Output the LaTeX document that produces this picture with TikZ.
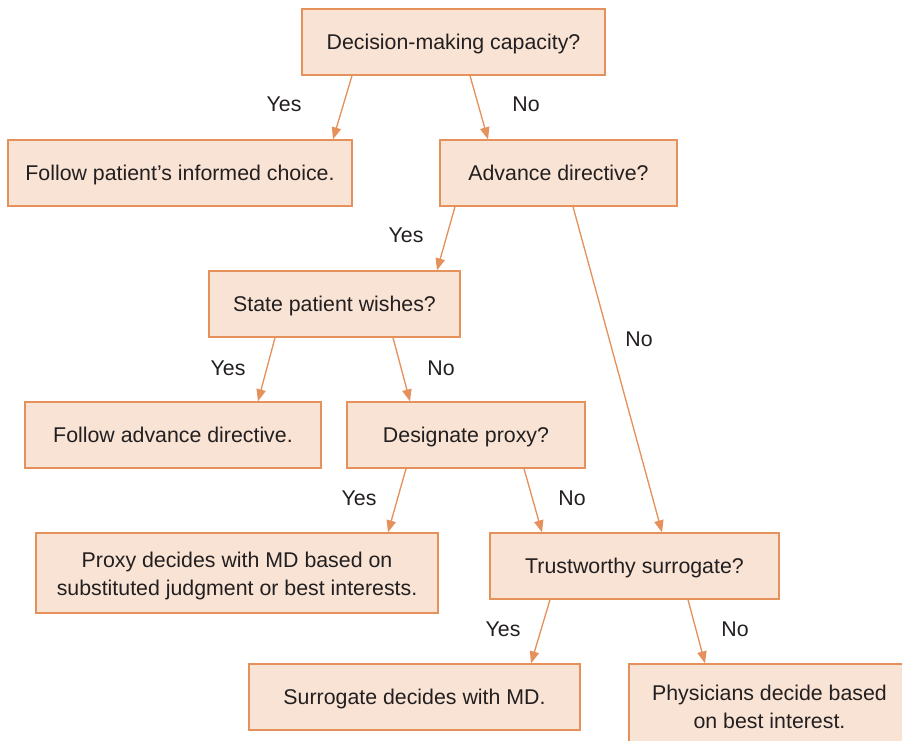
\documentclass[tikz,border=0pt]{standalone}
\usepackage{fontspec}
\setmainfont{Liberation Sans}
\usetikzlibrary{arrows.meta,calc}
\definecolor{boxfill}{RGB}{248,227,212}
\definecolor{boxline}{RGB}{229,145,92}
\definecolor{txt}{RGB}{35,31,32}
\begin{document}
\begin{tikzpicture}[x=0.75pt,y=-0.75pt,
  box/.style 2 args={draw=boxline,fill=boxfill,line width=1pt,rectangle,
    minimum width=#1*0.75pt,minimum height=#2*0.75pt,inner sep=0pt,
    text=txt,font=\fontsize{16}{21}\selectfont,align=center},
  onebox/.style={text depth=0pt},
  lbl/.style={text=txt,font=\fontsize{16}{21}\selectfont,inner sep=0pt},
  arr/.style={draw=boxline,line width=1pt,-{Triangle[length=9pt,width=7pt]}}]
\useasboundingbox (0,0) rectangle (902,740);
\clip (0,0) rectangle (902,740);
\node[box={303}{66},onebox] (dmc) at (453.5,42) {Decision-making capacity?};
\node[box={344}{66},onebox] (fpc) at (180,173) {Follow patient’s informed choice.};
\node[box={237}{66},onebox] (adv) at (558.5,173) {Advance directive?};
\node[box={251}{66},onebox] (spw) at (334.5,304) {State patient wishes?};
\node[box={296}{66},onebox] (fad) at (173,435) {Follow advance directive.};
\node[box={238}{66},onebox] (dpx) at (466,435) {Designate proxy?};
\node[box={402}{80}] (pdm) at (237,573) {\rule{0pt}{16pt}Proxy decides with MD based on\\substituted judgment or best interests.};
\node[box={289}{66},onebox] (tws) at (634.5,566) {Trustworthy surrogate?};
\node[box={331}{66},onebox] (sdm) at (414.5,697) {Surrogate decides with MD.};
\node[box={281}{82}] (phy) at (769.5,705) {\rule{0pt}{14pt}Physicians decide based\\on best interest.};
\node[lbl] at (284,104) {Yes};
\node[lbl] at (526,104) {No};
\node[lbl] at (406,235) {Yes};
\node[lbl] at (639,339) {No};
\node[lbl] at (228,368) {Yes};
\node[lbl] at (441,368) {No};
\node[lbl] at (359,498) {Yes};
\node[lbl] at (572,498) {No};
\node[lbl] at (503,629) {Yes};
\node[lbl] at (735,629) {No};
\draw[arr] ($(dmc.south)+(-101.5,0)$) -- ($(fpc.north)+(153,0)$);
\draw[arr] ($(dmc.south)+(16.5,0)$) -- ($(adv.north)+(-70.5,0)$);
\draw[arr] ($(adv.south)+(-103.5,0)$) -- ($(spw.north)+(102.5,0)$);
\draw[arr] ($(adv.south)+(14.5,0)$) -- ($(tws.north)+(27.5,0)$);
\draw[arr] ($(spw.south)+(-59.5,0)$) -- ($(fad.north)+(85,0)$);
\draw[arr] ($(spw.south)+(58.5,0)$) -- ($(dpx.north)+(-56,0)$);
\draw[arr] ($(dpx.south)+(-60,0)$) -- ($(pdm.north)+(151,0)$);
\draw[arr] ($(dpx.south)+(58,0)$) -- ($(tws.north)+(-92.5,0)$);
\draw[arr] ($(tws.south)+(-84.5,0)$) -- ($(sdm.north)+(116.5,0)$);
\draw[arr] ($(tws.south)+(53.5,0)$) -- ($(phy.north)+(-64.5,0)$);
\end{tikzpicture}
\end{document}
